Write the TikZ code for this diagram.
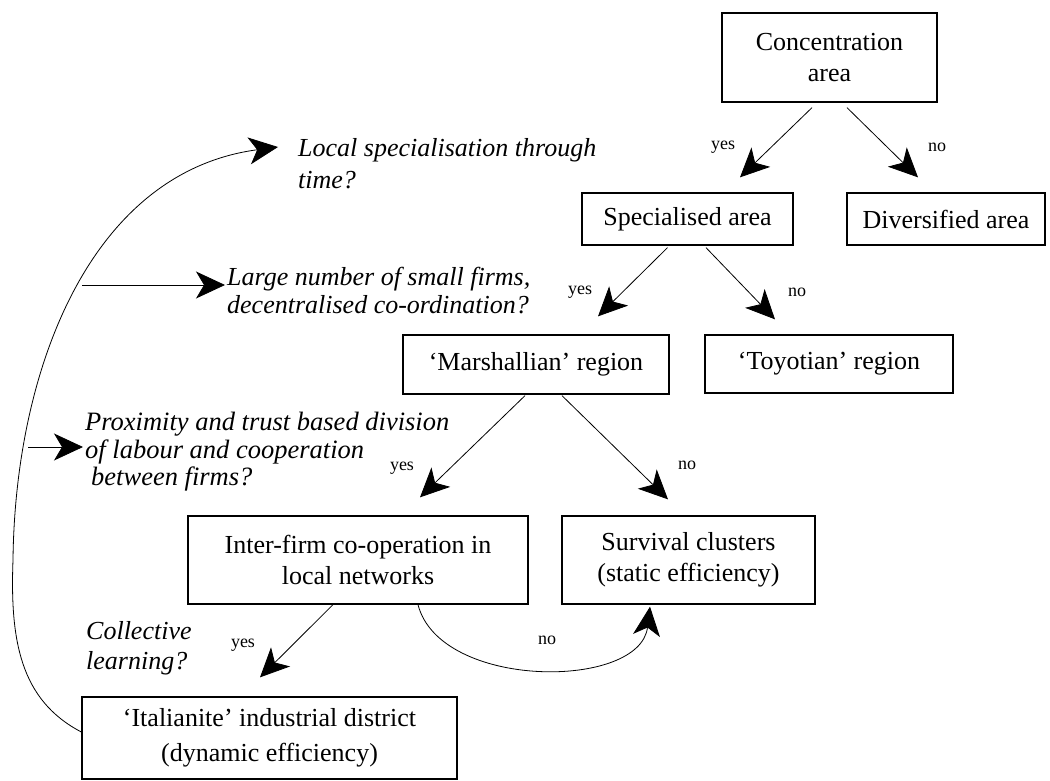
\documentclass[tikz,border=0pt]{standalone}
\usepackage{fontspec}
\setmainfont{Liberation Serif}
\usetikzlibrary{arrows.meta}
\begin{document}
\begin{tikzpicture}[x=1pt,y=-1pt,
  box/.style={draw, line width=1.3pt, inner sep=0pt, align=center, font=\fontsize{26}{31}\selectfont},
  ques/.style={inner sep=0pt, align=left, anchor=west},
  lbl/.style={inner sep=0pt, font=\fontsize{18}{18}\selectfont},
  arr/.style={line width=0.8pt, -{Stealth[length=29pt,width=27pt,inset=8pt]}}
]
\useasboundingbox (0,0) rectangle (1050,781);

% boxes
\node[box, minimum width=215pt, minimum height=89pt] (conc) at (829.5,57.5) {Concentration\\area};
\node[box, minimum width=211pt, minimum height=52pt] (spec) at (687.5,219) {Specialised area};
\node[box, minimum width=198pt, minimum height=52pt] (div) at (946,219) {Diversified area};
\node[box, minimum width=266pt, minimum height=59pt] (mars) at (536,364.5) {‘Marshallian’ region};
\node[box, minimum width=248pt, minimum height=58pt] (toyo) at (829,364) {‘Toyotian’ region};
\node[box, minimum width=340pt, minimum height=88pt] (inter) at (358,560) {Inter-firm co-operation in\\local networks};
\node[box, minimum width=253pt, minimum height=88pt] (surv) at (688.5,560) {Survival clusters\\(static efficiency)};
\node[box, minimum width=375pt, minimum height=82pt, font=\fontsize{26}{35}\selectfont] (ital) at (269.5,738) {‘Italianite’ industrial district\\(dynamic efficiency)};

% questions
\node[ques, font=\fontsize{26}{32}\selectfont\itshape] (q1) at (298,164) {Local specialisation through\\time?};
\node[ques, font=\fontsize{26}{28}\selectfont\itshape] (q2) at (227,291) {Large number of small firms,\\decentralised co-ordination?};
\node[ques, font=\fontsize{26.5}{27.5}\selectfont\itshape] (q3) at (85,452) {Proximity and trust based division\\of labour and cooperation\\\hspace*{6pt}between firms?};
\node[ques, font=\fontsize{26}{30}\selectfont\itshape] (q4) at (86,648) {Collective\\learning?};

% free ends
\coordinate (s2) at (82,285);
\coordinate (s3) at (28,447);

% labels
\node[lbl] (y1) at (723,147) {yes};
\node[lbl] (n1) at (937,147) {no};
\node[lbl] (y2) at (580,292) {yes};
\node[lbl] (n2) at (797,292) {no};
\node[lbl] (y3) at (402,468) {yes};
\node[lbl] (n3) at (687,465) {no};
\node[lbl] (y4) at (243,645) {yes};
\node[lbl] (n4) at (547,640) {no};

% connectors
\draw[arr] ([xshift=-17.5pt,yshift=-5pt]conc.south) -- ([xshift=52.5pt,yshift=15pt]spec.north);
\draw[arr] ([xshift=17.5pt,yshift=-5pt]conc.south) -- ([xshift=-28pt,yshift=15pt]div.north);
\draw[arr] ([xshift=-20pt,yshift=-2pt]spec.south) -- ([xshift=62pt,yshift=18pt]mars.north);
\draw[arr] ([xshift=18.5pt,yshift=-2pt]spec.south) -- ([xshift=-54pt,yshift=15pt]toyo.north);
\draw[arr] ([xshift=-11pt,yshift=-1pt]mars.south) -- ([xshift=62pt,yshift=18pt]inter.north);
\draw[arr] ([xshift=26pt,yshift=-1pt]mars.south) -- ([xshift=-20.5pt,yshift=16pt]surv.north);
\draw[arr] ([xshift=-25pt]inter.south) -- ([xshift=-9.5pt,yshift=19pt]ital.north);
\draw[arr] ([xshift=60pt]inter.south) .. controls (440,690) and (640,690) .. ([xshift=-38.5pt,yshift=-2pt]surv.south);
\draw[arr] ([yshift=6pt]ital.west) .. controls (20,700) and (10,640) .. (13,560)
  .. controls (15,370) and (90,172) .. ([xshift=-20pt,yshift=17pt]q1.west);
\draw[arr] (s2) -- ([xshift=-2pt,yshift=6pt]q2.west);
\draw[arr] (s3) -- ([xshift=-2pt,yshift=5pt]q3.west);
\end{tikzpicture}
\end{document}
